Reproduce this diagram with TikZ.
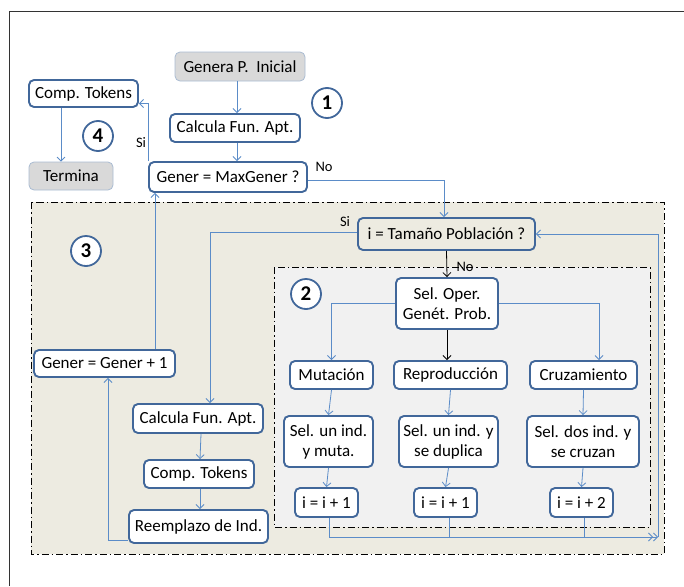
\documentclass[tikz,border=0pt]{standalone}
\usepackage{fontspec}
\setmainfont{Carlito}
\usetikzlibrary{arrows.meta,calc}
\definecolor{bord}{HTML}{41679A}
\definecolor{conn}{HTML}{5B8CC8}
\definecolor{tanbg}{HTML}{EDEBE1}
\definecolor{lgray}{HTML}{F1F1F1}
\definecolor{gfill}{HTML}{D9D9D9}
\begin{document}
\begin{tikzpicture}[x=1pt,y=-1pt,
 box/.style={draw=bord, line width=1.9pt, rounded corners=5pt, fill=white, font=\fontsize{17}{20}\selectfont, inner sep=0pt, align=center},
 gbox/.style={box, fill=gfill, draw=bord!45, line width=0.8pt},
 num/.style={circle, draw=bord, line width=1.8pt, fill=white, minimum size=30pt, inner sep=0pt, font=\fontsize{21}{22}\selectfont\bfseries},
 lab/.style={font=\fontsize{14.5}{16}\selectfont, inner sep=0pt},
 con/.style={draw=conn, line width=0.8pt, -{Straight Barb[length=4pt,width=8pt]}},
 kon/.style={draw=black, line width=0.8pt, -{Straight Barb[length=4pt,width=8pt]}},
 region/.style={draw=black, line width=0.9pt, dash pattern=on 7pt off 3pt on 1.5pt off 3pt}
]
\useasboundingbox (0,0) rectangle (684,586);
\draw[black!80, line width=0.8pt] (9,586) -- (9,11) -- (684,11);

% regions
\draw[region, fill=tanbg] (31,202) rectangle (664,554);
\draw[region, fill=lgray] (274,267) rectangle (650,527);

% top part
\node[gbox, minimum width=130pt, minimum height=29pt] (genera) at (240,66.5) {Genera P.\ \ Inicial};
\node[box, minimum width=130pt, minimum height=28pt] (calc1) at (235,128) {Calcula Fun. Apt.};
\node[box, minimum width=158pt, minimum height=30pt] (gmax) at (228,177) {Gener = MaxGener ?};
\node[box, minimum width=109pt, minimum height=27pt] (ctok1) at (83.5,93.5) {Comp. Tokens};
\node[gbox, minimum width=84pt, minimum height=28pt] (term) at (71,176) {Termina};
\node[num] (c1) at (327,103) {1};
\node[num] (c4) at (98,136) {4};
\node[num] (c3) at (86,251) {3};
\node[num] (c2) at (306,294) {2};

% region 3
\node[box, fill=tanbg, minimum width=177pt, minimum height=32pt] (tam) at (446.5,234) {i = Tamaño Población ?};
\node[box, minimum width=130pt, minimum height=29pt] (calc2) at (198,418.5) {Calcula Fun. Apt.};
\node[box, minimum width=110pt, minimum height=28pt] (ctok2) at (199,474) {Comp. Tokens};
\node[box, minimum width=139pt, minimum height=33pt] (reem) at (198.5,526.5) {Reemplazo de Ind.};
\node[box, minimum width=141pt, minimum height=27pt] (gg1) at (104.5,363.5) {Gener = Gener + 1};

% region 2
\node[box, minimum width=102pt, minimum height=51pt] (sel) at (447,303.5) {Sel. Oper.\\Genét. Prob.};
\node[box, minimum width=83pt, minimum height=28pt] (mut) at (331.5,375) {Mutación};
\node[box, minimum width=113pt, minimum height=28pt] (rep) at (450.5,375) {Reproducción};
\node[box, minimum width=107pt, minimum height=28pt] (cru) at (583.5,375) {Cruzamiento};
\node[box, minimum width=89pt, minimum height=51pt] (s1) at (328.5,441.5) {Sel. un ind.\\y muta.};
\node[box, minimum width=99pt, minimum height=51pt] (s2) at (448.5,441.5) {Sel. un ind. y\\se duplica};
\node[box, minimum width=112pt, minimum height=51pt] (s3) at (583,441.5) {Sel. dos ind. y\\se cruzan};
\node[box, minimum width=63pt, minimum height=29pt] (i1) at (326.5,502.5) {i = i + 1};
\node[box, minimum width=63pt, minimum height=29pt] (i2) at (445.5,502.5) {i = i + 1};
\node[box, minimum width=63pt, minimum height=29pt] (i3) at (581.5,502.5) {i = i + 2};

% labels
\node[lab] (lsi1) at (141,143) {Si};
\node[lab] (lno1) at (324,167) {No};
\node[lab] (lsi2) at (345,222) {Si};
\node[lab] (lno2) at (465,267) {No};

% connectors top
\draw[con] ([xshift=-3pt]genera.south) -- ([xshift=2pt]calc1.north);
\draw[con] ([xshift=2pt]calc1.south) -- ([xshift=9pt]gmax.north);
\draw[con] ([xshift=-22.5pt]ctok1.south) -- ([xshift=-10pt]term.north);
\draw[con] (gmax.north west) |- ([yshift=-10pt]ctok1.east);
\draw[con] ([yshift=-3pt]gmax.east) -| ([xshift=-2.5pt]tam.north);

% region 3 connectors
\draw[kon] (tam.south) -- (sel.north);
\draw[con] ([yshift=2pt]tam.west) -| ([xshift=12pt]calc2.north);
\draw[con] ([xshift=3pt]calc2.south) -- ([xshift=1pt]ctok2.north);
\draw[con] ([xshift=1pt]ctok2.south) -- ([xshift=1.5pt]reem.north);
\draw[con] ([yshift=-14pt]reem.west) -| ([xshift=3.5pt]gg1.south);
\draw[con] ([xshift=50.5pt]gg1.north) -- ([xshift=-73pt]gmax.south);

% region 2 connectors
\draw[con] (sel.west) -| (mut.north);
\draw[con] (sel.east) -| ([xshift=15.5pt]cru.north);
\draw[kon] (sel.south) -- (sel.south |- rep.north);
\draw[con] (mut.south) -- (s1.north);
\draw[con] (rep.south) -- (s2.north);
\draw[con] (cru.south) -- (s3.north);
\draw[con] (s1.south) -- (i1.north);
\draw[con] (s2.south) -- (i2.north);
\draw[con] (s3.south) -- (i3.north);

% collector and loop
\coordinate (endc) at (658,537);
\draw[draw=conn, line width=0.8pt, -{Straight Barb[length=4pt,width=8pt]Straight Barb[length=4pt,width=8pt]}] ([xshift=2.5pt]i1.south) |- (endc);
\draw[draw=conn, line width=0.8pt] ([xshift=3.5pt]i2.south) -- ([xshift=3.5pt]i2.south |- endc);
\draw[draw=conn, line width=0.8pt] ([xshift=2.5pt]i3.south) -- ([xshift=2.5pt]i3.south |- endc);
\draw[con] (endc) |- (tam.east);
\end{tikzpicture}
\end{document}
